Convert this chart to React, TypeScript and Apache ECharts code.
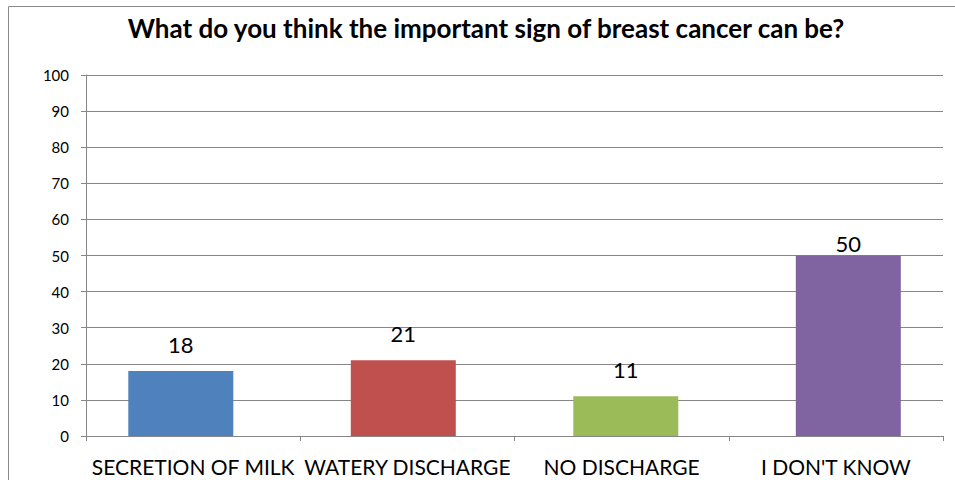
import React, { useEffect, useRef } from "react";
import * as echarts from "echarts";

const titleText = "What do you think the important sign of breast cancer can be?";
const categories = ["SECRETION OF MILK", "WATERY DISCHARGE", "NO DISCHARGE", "I DON'T KNOW"];
const values = [18, 21, 11, 50];
const barColors = ["#4F81BD", "#C0504D", "#9BBB59", "#8064A2"];
const yMin = 0;
const yMax = 100;
const yStep = 10;

const FONT = "Lato, 'Open Sans', sans-serif";
const AXIS_GREY = "#868686";

export default function App() {
  const ref = useRef<HTMLDivElement>(null);

  useEffect(() => {
    document.body.style.margin = "0";
    if (!ref.current) return;
    const chart = echarts.init(ref.current, undefined, { renderer: "svg" });

    const data = values.map((v, i) => ({
      value: v,
      itemStyle: { color: barColors[i] },
      label: { distance: v >= 50 ? 1 : 16 },
    }));

    chart.setOption({
      animation: false,
      backgroundColor: "#ffffff",
      title: {
        text: titleText,
        left: 481,
        textAlign: "center",
        top: 10,
        textStyle: { fontFamily: FONT, fontSize: 26, fontWeight: "bold", color: "#000" },
      },
      graphic: [
        {
          type: "rect",
          shape: { x: 8.5, y: 6.5, width: 1000, height: 600 },
          style: { fill: "none", stroke: "#8a8a8a", lineWidth: 1 },
          silent: true,
        },
      ],
      // grid 0 carries the visible axes; grid 1 places the column centres
      grid: [
        { left: 86, right: 12, top: 75, bottom: 44, containLabel: false },
        { left: 180.8, right: 106.7, top: 75, bottom: 44, containLabel: false },
      ],
      xAxis: [
        {
          type: "category",
          gridIndex: 0,
          data: categories,
          boundaryGap: true,
          axisLine: { show: true, lineStyle: { color: AXIS_GREY, width: 1 } },
          axisTick: { show: true, interval: 0, alignWithLabel: false, length: 5, lineStyle: { color: AXIS_GREY } },
          axisLabel: { interval: 0, margin: 20, fontFamily: FONT, fontSize: 21, color: "#000" },
          splitLine: { show: false },
        },
        {
          type: "category",
          gridIndex: 1,
          data: categories,
          boundaryGap: false,
          show: false,
        },
      ],
      yAxis: [
        {
          type: "value",
          gridIndex: 0,
          min: yMin,
          max: yMax,
          interval: yStep,
          axisLine: { show: true, lineStyle: { color: AXIS_GREY, width: 1 } },
          axisTick: { show: true, length: 5, lineStyle: { color: AXIS_GREY } },
          axisLabel: { margin: 17, fontFamily: FONT, fontSize: 15, color: "#000" },
          splitLine: { show: true, lineStyle: { color: AXIS_GREY, width: 1 } },
        },
        {
          type: "value",
          gridIndex: 1,
          min: yMin,
          max: yMax,
          interval: yStep,
          show: false,
          splitLine: { show: false },
        },
      ],
      series: [
        {
          type: "bar",
          xAxisIndex: 1,
          yAxisIndex: 1,
          data,
          barWidth: 105,
          label: {
            show: true,
            position: "top",
            fontFamily: FONT,
            fontSize: 22,
            color: "#000",
          },
        },
      ],
    });

    return () => chart.dispose();
  }, []);

  return <div ref={ref} style={{ width: 955, height: 480 }} />;
}
